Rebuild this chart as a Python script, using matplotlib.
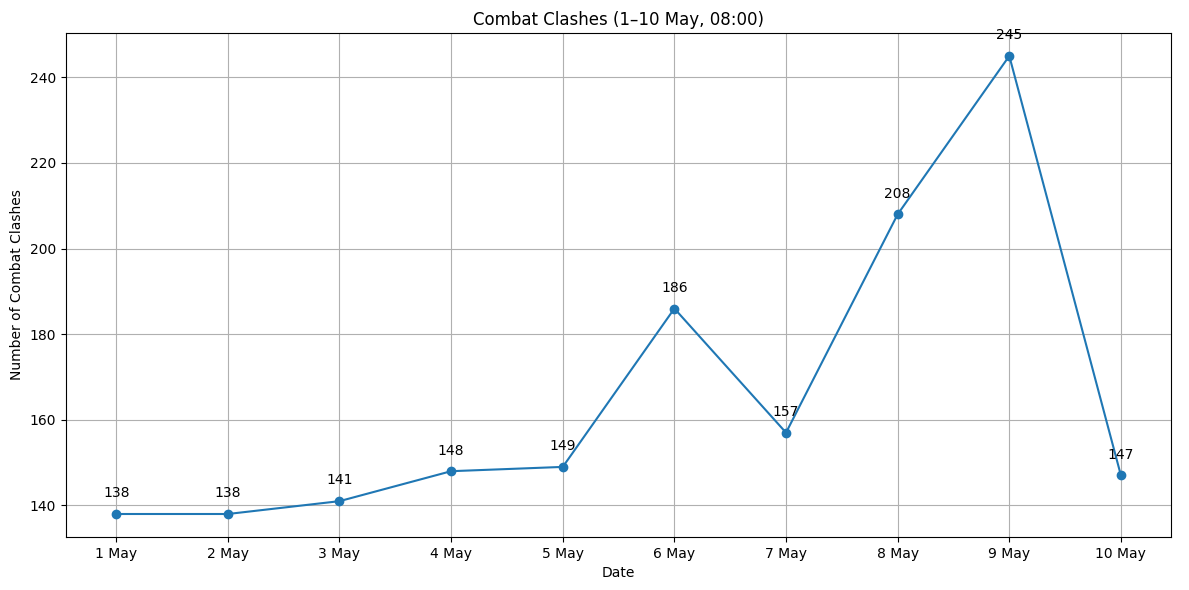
import matplotlib
matplotlib.use("Agg")
import matplotlib.pyplot as plt

dates = ["1 May", "2 May", "3 May", "4 May", "5 May",
         "6 May", "7 May", "8 May", "9 May", "10 May"]
clashes = [138, 138, 141, 148, 149, 186, 157, 208, 245, 147]

fig, ax = plt.subplots(figsize=(11.89, 5.9), dpi=100)
ax.plot(dates, clashes, marker="o")
for x, y in zip(dates, clashes):
    ax.annotate(str(y), (x, y), textcoords="offset points", xytext=(0, 12), ha="center")

ax.set_title("Combat Clashes (1–10 May, 08:00)")
ax.set_xlabel("Date")
ax.set_ylabel("Number of Combat Clashes")
ax.grid(True)
fig.subplots_adjust(left=0.0555, right=0.985, top=0.944, bottom=0.09)
fig.savefig("out.png", dpi=100)
